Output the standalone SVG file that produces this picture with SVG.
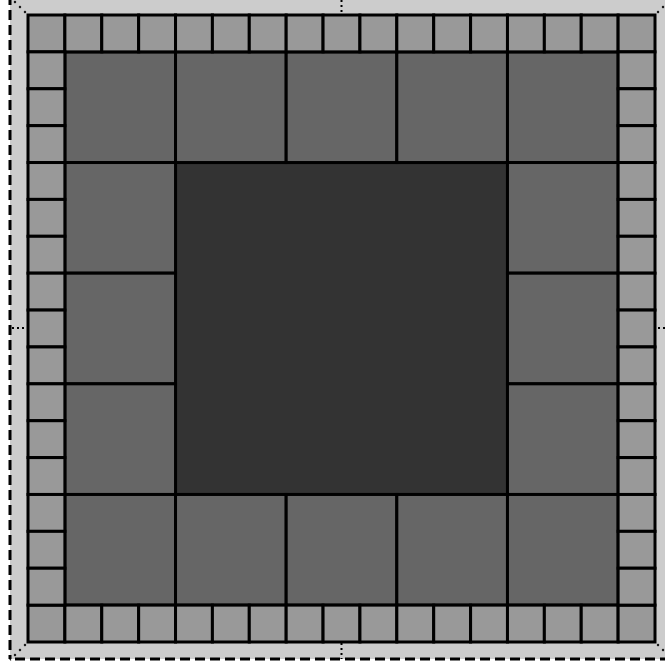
<svg xmlns="http://www.w3.org/2000/svg" width="665" height="670" viewBox="0 0 665 670">
<style>
.s{fill:#999999;stroke:#000;stroke-width:3}
.m{fill:#666666;stroke:#000;stroke-width:3}
.c{fill:#333333;stroke:#000;stroke-width:3}
.dash{fill:none;stroke:#000;stroke-width:3;stroke-dasharray:10,5}
.dot{fill:none;stroke:#000;stroke-width:2;stroke-dasharray:2,3}
.diag{fill:none;stroke:#000;stroke-width:2;stroke-dasharray:2,5.07;stroke-dashoffset:3.8}
</style>
<g id="frame">
<rect x="10" y="-5" width="663" height="664" fill="#cccccc"/>
<path class="dash" d="M10,-5 V659"/>
<path class="dash" d="M10,659 H673" style="stroke-dashoffset:10"/>
</g>
<g id="guides">
<path class="diag" d="M28,15 L10,-3"/>
<path class="diag" d="M28,642 L10,660"/>
<path class="diag" d="M655,15 L673,-3"/>
<path class="diag" d="M655,642 L673,660"/>
<path class="dot" d="M341.5,0 V15"/>
<path class="dot" d="M341.5,643 V659"/>
<path class="dot" d="M12,328 H28"/>
<path class="dot" d="M658,328 H673"/>
</g>
<g id="center"><rect class="c" x="175.53" y="162.53" width="331.94" height="331.94"/></g>
<g id="m-t0"><rect class="m" x="64.88" y="51.88" width="110.65" height="110.65"/></g>
<g id="m-t1"><rect class="m" x="175.53" y="51.88" width="110.65" height="110.65"/></g>
<g id="m-t2"><rect class="m" x="286.18" y="51.88" width="110.65" height="110.65"/></g>
<g id="m-t3"><rect class="m" x="396.82" y="51.88" width="110.65" height="110.65"/></g>
<g id="m-t4"><rect class="m" x="507.47" y="51.88" width="110.65" height="110.65"/></g>
<g id="m-l1"><rect class="m" x="64.88" y="162.53" width="110.65" height="110.65"/></g>
<g id="m-l2"><rect class="m" x="64.88" y="273.18" width="110.65" height="110.65"/></g>
<g id="m-l3"><rect class="m" x="64.88" y="383.82" width="110.65" height="110.65"/></g>
<g id="m-r1"><rect class="m" x="507.47" y="162.53" width="110.65" height="110.65"/></g>
<g id="m-r2"><rect class="m" x="507.47" y="273.18" width="110.65" height="110.65"/></g>
<g id="m-r3"><rect class="m" x="507.47" y="383.82" width="110.65" height="110.65"/></g>
<g id="m-b0"><rect class="m" x="64.88" y="494.47" width="110.65" height="110.65"/></g>
<g id="m-b1"><rect class="m" x="175.53" y="494.47" width="110.65" height="110.65"/></g>
<g id="m-b2"><rect class="m" x="286.18" y="494.47" width="110.65" height="110.65"/></g>
<g id="m-b3"><rect class="m" x="396.82" y="494.47" width="110.65" height="110.65"/></g>
<g id="m-b4"><rect class="m" x="507.47" y="494.47" width="110.65" height="110.65"/></g>
<g id="s-t0"><rect class="s" x="28" y="15" width="36.88" height="36.88"/></g>
<g id="s-t1"><rect class="s" x="64.88" y="15" width="36.88" height="36.88"/></g>
<g id="s-t2"><rect class="s" x="101.76" y="15" width="36.88" height="36.88"/></g>
<g id="s-t3"><rect class="s" x="138.65" y="15" width="36.88" height="36.88"/></g>
<g id="s-t4"><rect class="s" x="175.53" y="15" width="36.88" height="36.88"/></g>
<g id="s-t5"><rect class="s" x="212.41" y="15" width="36.88" height="36.88"/></g>
<g id="s-t6"><rect class="s" x="249.29" y="15" width="36.88" height="36.88"/></g>
<g id="s-t7"><rect class="s" x="286.18" y="15" width="36.88" height="36.88"/></g>
<g id="s-t8"><rect class="s" x="323.06" y="15" width="36.88" height="36.88"/></g>
<g id="s-t9"><rect class="s" x="359.94" y="15" width="36.88" height="36.88"/></g>
<g id="s-t10"><rect class="s" x="396.82" y="15" width="36.88" height="36.88"/></g>
<g id="s-t11"><rect class="s" x="433.71" y="15" width="36.88" height="36.88"/></g>
<g id="s-t12"><rect class="s" x="470.59" y="15" width="36.88" height="36.88"/></g>
<g id="s-t13"><rect class="s" x="507.47" y="15" width="36.88" height="36.88"/></g>
<g id="s-t14"><rect class="s" x="544.35" y="15" width="36.88" height="36.88"/></g>
<g id="s-t15"><rect class="s" x="581.24" y="15" width="36.88" height="36.88"/></g>
<g id="s-t16"><rect class="s" x="618.12" y="15" width="36.88" height="36.88"/></g>
<g id="s-b0"><rect class="s" x="28" y="605.12" width="36.88" height="36.88"/></g>
<g id="s-b1"><rect class="s" x="64.88" y="605.12" width="36.88" height="36.88"/></g>
<g id="s-b2"><rect class="s" x="101.76" y="605.12" width="36.88" height="36.88"/></g>
<g id="s-b3"><rect class="s" x="138.65" y="605.12" width="36.88" height="36.88"/></g>
<g id="s-b4"><rect class="s" x="175.53" y="605.12" width="36.88" height="36.88"/></g>
<g id="s-b5"><rect class="s" x="212.41" y="605.12" width="36.88" height="36.88"/></g>
<g id="s-b6"><rect class="s" x="249.29" y="605.12" width="36.88" height="36.88"/></g>
<g id="s-b7"><rect class="s" x="286.18" y="605.12" width="36.88" height="36.88"/></g>
<g id="s-b8"><rect class="s" x="323.06" y="605.12" width="36.88" height="36.88"/></g>
<g id="s-b9"><rect class="s" x="359.94" y="605.12" width="36.88" height="36.88"/></g>
<g id="s-b10"><rect class="s" x="396.82" y="605.12" width="36.88" height="36.88"/></g>
<g id="s-b11"><rect class="s" x="433.71" y="605.12" width="36.88" height="36.88"/></g>
<g id="s-b12"><rect class="s" x="470.59" y="605.12" width="36.88" height="36.88"/></g>
<g id="s-b13"><rect class="s" x="507.47" y="605.12" width="36.88" height="36.88"/></g>
<g id="s-b14"><rect class="s" x="544.35" y="605.12" width="36.88" height="36.88"/></g>
<g id="s-b15"><rect class="s" x="581.24" y="605.12" width="36.88" height="36.88"/></g>
<g id="s-b16"><rect class="s" x="618.12" y="605.12" width="36.88" height="36.88"/></g>
<g id="s-l1"><rect class="s" x="28" y="51.88" width="36.88" height="36.88"/></g>
<g id="s-l2"><rect class="s" x="28" y="88.76" width="36.88" height="36.88"/></g>
<g id="s-l3"><rect class="s" x="28" y="125.65" width="36.88" height="36.88"/></g>
<g id="s-l4"><rect class="s" x="28" y="162.53" width="36.88" height="36.88"/></g>
<g id="s-l5"><rect class="s" x="28" y="199.41" width="36.88" height="36.88"/></g>
<g id="s-l6"><rect class="s" x="28" y="236.29" width="36.88" height="36.88"/></g>
<g id="s-l7"><rect class="s" x="28" y="273.18" width="36.88" height="36.88"/></g>
<g id="s-l8"><rect class="s" x="28" y="310.06" width="36.88" height="36.88"/></g>
<g id="s-l9"><rect class="s" x="28" y="346.94" width="36.88" height="36.88"/></g>
<g id="s-l10"><rect class="s" x="28" y="383.82" width="36.88" height="36.88"/></g>
<g id="s-l11"><rect class="s" x="28" y="420.71" width="36.88" height="36.88"/></g>
<g id="s-l12"><rect class="s" x="28" y="457.59" width="36.88" height="36.88"/></g>
<g id="s-l13"><rect class="s" x="28" y="494.47" width="36.88" height="36.88"/></g>
<g id="s-l14"><rect class="s" x="28" y="531.35" width="36.88" height="36.88"/></g>
<g id="s-l15"><rect class="s" x="28" y="568.24" width="36.88" height="36.88"/></g>
<g id="s-r1"><rect class="s" x="618.12" y="51.88" width="36.88" height="36.88"/></g>
<g id="s-r2"><rect class="s" x="618.12" y="88.76" width="36.88" height="36.88"/></g>
<g id="s-r3"><rect class="s" x="618.12" y="125.65" width="36.88" height="36.88"/></g>
<g id="s-r4"><rect class="s" x="618.12" y="162.53" width="36.88" height="36.88"/></g>
<g id="s-r5"><rect class="s" x="618.12" y="199.41" width="36.88" height="36.88"/></g>
<g id="s-r6"><rect class="s" x="618.12" y="236.29" width="36.88" height="36.88"/></g>
<g id="s-r7"><rect class="s" x="618.12" y="273.18" width="36.88" height="36.88"/></g>
<g id="s-r8"><rect class="s" x="618.12" y="310.06" width="36.88" height="36.88"/></g>
<g id="s-r9"><rect class="s" x="618.12" y="346.94" width="36.88" height="36.88"/></g>
<g id="s-r10"><rect class="s" x="618.12" y="383.82" width="36.88" height="36.88"/></g>
<g id="s-r11"><rect class="s" x="618.12" y="420.71" width="36.88" height="36.88"/></g>
<g id="s-r12"><rect class="s" x="618.12" y="457.59" width="36.88" height="36.88"/></g>
<g id="s-r13"><rect class="s" x="618.12" y="494.47" width="36.88" height="36.88"/></g>
<g id="s-r14"><rect class="s" x="618.12" y="531.35" width="36.88" height="36.88"/></g>
<g id="s-r15"><rect class="s" x="618.12" y="568.24" width="36.88" height="36.88"/></g>
</svg>
